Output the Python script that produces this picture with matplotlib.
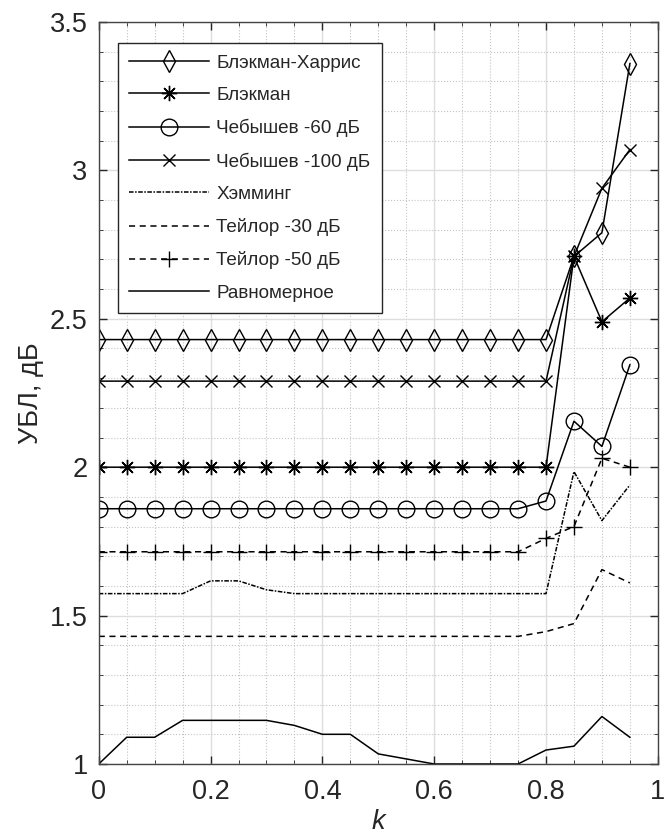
import matplotlib
matplotlib.use('Agg')
import matplotlib.pyplot as plt
from matplotlib.ticker import MultipleLocator

plt.rcParams['font.family'] = ['Liberation Sans', 'DejaVu Sans']

# data
k = [0.0, 0.05, 0.1, 0.15, 0.2, 0.25, 0.3, 0.35, 0.4, 0.45,
     0.5, 0.55, 0.6, 0.65, 0.7, 0.75, 0.8, 0.85, 0.9, 0.95]

blackman_harris = [2.43] * 17 + [2.71, 2.79, 3.36]
blackman = [2.0] * 17 + [2.71, 2.49, 2.57]
cheb60 = [1.86] * 16 + [1.886, 2.155, 2.07, 2.345]
cheb100 = [2.29] * 17 + [2.71, 2.94, 3.07]
hamming = [1.574, 1.574, 1.574, 1.574, 1.617, 1.617, 1.587, 1.574, 1.574, 1.574,
           1.574, 1.574, 1.574, 1.574, 1.574, 1.574, 1.574, 1.985, 1.82, 1.94]
taylor30 = [1.43] * 16 + [1.446, 1.473, 1.655, 1.61]
taylor50 = [1.715] * 16 + [1.76, 1.80, 2.03, 2.0]
uniform = [1.0, 1.09, 1.09, 1.147, 1.147, 1.147, 1.147, 1.13, 1.10, 1.10,
           1.034, 1.017, 1.0, 1.0, 1.0, 1.0, 1.047, 1.06, 1.16, 1.09]

labels = ['Блэкман-Харрис', 'Блэкман', 'Чебышев -60 дБ', 'Чебышев -100 дБ',
          'Хэмминг', 'Тейлор -30 дБ', 'Тейлор -50 дБ', 'Равномерное']

xticks = [0, 0.2, 0.4, 0.6, 0.8, 1]
xticklabels = ['0', '0.2', '0.4', '0.6', '0.8', '1']
yticks = [1, 1.5, 2, 2.5, 3, 3.5]
yticklabels = ['1', '1.5', '2', '2.5', '3', '3.5']

fig = plt.figure(figsize=(6.64, 8.4), dpi=100)
ax = fig.add_axes([0.1487, 0.0905, 0.842, 0.8833])

lw = 1.1
ax.plot(k, blackman_harris, '-', color='k', lw=lw, marker='d', ms=11, mfc='none', mew=1.0, label=labels[0])
ax.plot(k, blackman, '-', color='k', lw=lw, marker=(8, 2, 0), ms=11, mew=1.0, label=labels[1])
ax.plot(k, cheb60, '-', color='k', lw=lw, marker='o', ms=12, mfc='none', mew=1.0, label=labels[2])
ax.plot(k, cheb100, '-', color='k', lw=lw, marker='x', ms=9, mew=1.0, label=labels[3])
ax.plot(k, hamming, color='k', lw=lw, dashes=(3, 1, 1, 1), label=labels[4])
ax.plot(k, taylor30, color='k', lw=lw, dashes=(4, 3), label=labels[5])
ax.plot(k, taylor50, color='k', lw=lw, dashes=(4, 3), marker='+', ms=11, mew=1.0, label=labels[6])
ax.plot(k, uniform, '-', color='k', lw=lw, label=labels[7])

ax.set_xlim(0, 1)
ax.set_ylim(1, 3.5)
ax.set_xticks(xticks)
ax.set_xticklabels(xticklabels)
ax.set_yticks(yticks)
ax.set_yticklabels(yticklabels)
ax.xaxis.set_minor_locator(MultipleLocator(0.05))
ax.yaxis.set_minor_locator(MultipleLocator(0.1))

ax.grid(which='major', color='#dedede', lw=1.0, ls='-')
ax.grid(which='minor', color='#c4c4c4', lw=0.8, ls=':')
ax.set_axisbelow(True)

ax.tick_params(which='both', direction='in', top=True, right=True, colors='#262626',
               labelsize=19.5)
ax.tick_params(which='major', length=6, width=1.0)
ax.tick_params(which='minor', length=3, width=0.6)
ax.tick_params(axis='x', which='major', pad=11)
ax.tick_params(axis='y', which='major', pad=8)
for s in ax.spines.values():
    s.set_color('#444444')
    s.set_linewidth(1.0)

ax.set_xlabel('k', fontsize=19.5, style='italic', color='#262626', labelpad=3)
ax.set_ylabel('УБЛ, дБ', fontsize=19.5, color='#262626', labelpad=4)

leg = ax.legend(loc='upper left', bbox_to_anchor=(118 / 664, 1 - 43 / 840),
                bbox_transform=fig.transFigure, borderaxespad=0, fontsize=13.6,
                handlelength=4.2, handletextpad=0.4, labelspacing=0.8,
                borderpad=0.6, fancybox=False, framealpha=1, edgecolor='#262626')
leg.get_frame().set_linewidth(1.0)
for t in leg.get_texts():
    t.set_color('#262626')

fig.savefig('out.png', dpi=100)
